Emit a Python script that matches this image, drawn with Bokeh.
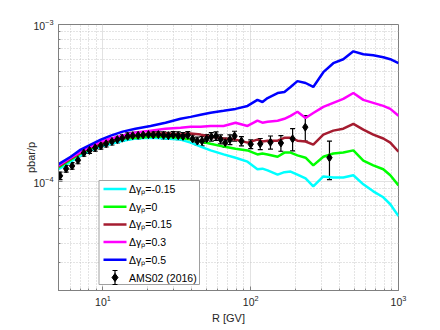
from bokeh.plotting import figure
from bokeh.models import (Range1d, FixedTicker, ColumnDataSource, Whisker, TeeHead,
                          BoxAnnotation, PolyAnnotation, Label)
from bokeh.embed import file_html
from bokeh.resources import INLINE

# ---------------- data ----------------
R_model = [5.0, 6.05, 7.07, 8.26, 9.66, 11.3, 13.6, 16.6, 21.0, 26.5, 33.5, 39.2, 45.8, 53.5,
           65.5, 78.9, 95.1, 111, 120, 130, 152, 169, 186, 207, 235, 265, 310, 362, 423,
           495, 578, 675, 789, 880, 1000]

dg_m015 = [1.19e-4, 1.33e-4, 1.46e-4, 1.57e-4, 1.66e-4, 1.73e-4, 1.81e-4, 1.87e-4, 1.89e-4,
           1.87e-4, 1.84e-4, 1.76e-4, 1.66e-4, 1.57e-4, 1.48e-4, 1.41e-4, 1.33e-4, 1.19e-4,
           1.20e-4, 1.17e-4, 1.10e-4, 1.14e-4, 1.15e-4, 1.10e-4, 1.04e-4, 0.926e-4, 1.07e-4,
           1.055e-4, 1.055e-4, 1.09e-4, 0.953e-4, 0.860e-4, 0.788e-4, 0.711e-4, 0.597e-4]
dg_0 = [1.22e-4, 1.37e-4, 1.50e-4, 1.61e-4, 1.71e-4, 1.79e-4, 1.87e-4, 1.89e-4, 1.92e-4,
        1.92e-4, 1.89e-4, 1.84e-4, 1.79e-4, 1.73e-4, 1.66e-4, 1.61e-4, 1.57e-4, 1.48e-4,
        1.50e-4, 1.48e-4, 1.43e-4, 1.52e-4, 1.52e-4, 1.46e-4, 1.41e-4, 1.26e-4, 1.43e-4,
        1.50e-4, 1.52e-4, 1.57e-4, 1.35e-4, 1.26e-4, 1.19e-4, 1.09e-4, 0.939e-4]
dg_015 = [1.24e-4, 1.39e-4, 1.52e-4, 1.64e-4, 1.73e-4, 1.81e-4, 1.89e-4, 1.95e-4, 2.01e-4,
          2.01e-4, 1.98e-4, 2.01e-4, 1.98e-4, 1.92e-4, 1.87e-4, 1.84e-4, 1.76e-4, 1.84e-4,
          1.79e-4, 1.81e-4, 1.81e-4, 1.89e-4, 1.89e-4, 1.81e-4, 1.79e-4, 1.71e-4, 1.98e-4,
          2.10e-4, 2.16e-4, 2.32e-4, 2.13e-4, 1.98e-4, 1.87e-4, 1.76e-4, 1.54e-4]
dg_03 = [1.26e-4, 1.41e-4, 1.54e-4, 1.66e-4, 1.79e-4, 1.87e-4, 1.95e-4, 2.04e-4, 2.10e-4,
         2.16e-4, 2.19e-4, 2.22e-4, 2.22e-4, 2.25e-4, 2.25e-4, 2.36e-4, 2.25e-4, 2.43e-4,
         2.36e-4, 2.39e-4, 2.43e-4, 2.50e-4, 2.61e-4, 2.77e-4, 2.53e-4, 2.72e-4, 2.98e-4,
         3.16e-4, 3.35e-4, 3.65e-4, 3.30e-4, 3.16e-4, 3.02e-4, 2.89e-4, 2.61e-4]
dg_05 = [1.28e-4, 1.43e-4, 1.59e-4, 1.71e-4, 1.84e-4, 1.95e-4, 2.07e-4, 2.16e-4, 2.25e-4,
         2.36e-4, 2.50e-4, 2.57e-4, 2.65e-4, 2.73e-4, 2.81e-4, 2.89e-4, 3.02e-4, 3.30e-4,
         3.20e-4, 3.39e-4, 3.65e-4, 3.71e-4, 3.99e-4, 4.35e-4, 4.23e-4, 3.99e-4, 4.96e-4,
         5.66e-4, 6.00e-4, 6.74e-4, 6.45e-4, 6.36e-4, 6.18e-4, 6.00e-4, 5.66e-4]

series_labels = ["Δγₚ=-0.15", "Δγₚ=0", "Δγₚ=0.15", "Δγₚ=0.3", "Δγₚ=0.5"]
series_colors = ["#00ffff", "#00ff00", "#a51c30", "#ff00ff", "#0000ff"]
series_values = [dg_m015, dg_0, dg_015, dg_03, dg_05]

ams_R = [5.12, 5.63, 6.18, 6.77, 7.42, 8.11, 8.86, 9.67, 10.5, 11.5, 12.5, 13.5, 14.7, 15.9,
         17.3, 18.7, 20.3, 21.9, 23.7, 25.7, 27.7, 29.9, 32.3, 34.8, 37.5, 40.4, 43.5, 46.8,
         50.3, 54.1, 58.2, 62.5, 67.2, 72.3, 77.7, 86.5, 100, 116, 136, 160, 192, 234, 341]
ams_ratio = [1.08e-4, 1.20e-4, 1.25e-4, 1.36e-4, 1.51e-4, 1.57e-4, 1.63e-4, 1.68e-4, 1.73e-4,
             1.79e-4, 1.84e-4, 1.88e-4, 1.93e-4, 1.95e-4, 1.96e-4, 1.97e-4, 1.98e-4, 1.97e-4,
             1.98e-4, 1.96e-4, 1.95e-4, 1.97e-4, 1.95e-4, 1.93e-4, 1.96e-4, 1.86e-4, 1.80e-4,
             1.80e-4, 1.86e-4, 1.92e-4, 1.94e-4, 1.85e-4, 1.76e-4, 1.84e-4, 1.94e-4, 1.80e-4,
             1.72e-4, 1.73e-4, 1.77e-4, 1.75e-4, 1.86e-4, 2.21e-4, 1.41e-4]
ams_err = [0.06e-4, 0.06e-4, 0.06e-4, 0.07e-4, 0.07e-4, 0.07e-4, 0.08e-4, 0.08e-4, 0.08e-4,
           0.09e-4, 0.09e-4, 0.09e-4, 0.10e-4, 0.10e-4, 0.10e-4, 0.10e-4, 0.10e-4, 0.10e-4,
           0.10e-4, 0.10e-4, 0.10e-4, 0.10e-4, 0.11e-4, 0.11e-4, 0.11e-4, 0.11e-4, 0.11e-4,
           0.12e-4, 0.12e-4, 0.12e-4, 0.12e-4, 0.12e-4, 0.12e-4, 0.13e-4, 0.14e-4, 0.12e-4,
           0.11e-4, 0.14e-4, 0.17e-4, 0.20e-4, 0.30e-4, 0.41e-4, 0.39e-4]
ams_label = "AMS02 (2016)"

x_major = [10, 100, 1000]
x_minor = [5, 6, 7, 8, 9, 20, 30, 40, 50, 60, 70, 80, 90, 200, 300, 400, 500, 600, 700, 800, 900]
y_major = [1e-4, 1e-3]
y_minor = [2e-5, 3e-5, 4e-5, 5e-5, 6e-5, 7e-5, 8e-5, 9e-5,
           2e-4, 3e-4, 4e-4, 5e-4, 6e-4, 7e-4, 8e-4, 9e-4]

# ---------------- figure ----------------
FONT = "Liberation Sans"
AX = "#808080"

p = figure(width=432, height=326, x_axis_type="log", y_axis_type="log",
           x_range=Range1d(5, 1000), y_range=Range1d(2e-5, 1e-3),
           output_backend="svg", toolbar_location=None,
           min_border_left=58, min_border_right=34, min_border_top=24, min_border_bottom=34)
p.background_fill_color = "white"
p.border_fill_color = "white"
p.outline_line_color = AX
p.outline_line_width = 1

p.xaxis.ticker = FixedTicker(ticks=x_major, minor_ticks=x_minor)
p.yaxis.ticker = FixedTicker(ticks=y_major, minor_ticks=y_minor)
p.xaxis.axis_label = "R [GV]"
p.yaxis.axis_label = "pbar/p"
for ax in (p.xaxis[0], p.yaxis[0]):
    ax.major_tick_in = 4
    ax.major_tick_out = 0
    ax.minor_tick_in = 2
    ax.minor_tick_out = 0
    ax.axis_line_color = AX
    ax.major_tick_line_color = AX
    ax.minor_tick_line_color = AX
    ax.major_label_text_font = FONT
    ax.major_label_text_font_size = "10.5px"
    ax.major_label_text_color = "#262626"
    ax.axis_label_text_font = FONT
    ax.axis_label_text_font_size = "11px"
    ax.axis_label_text_font_style = "normal"
    ax.axis_label_text_color = "#262626"
p.xaxis.major_label_standoff = 4
p.xaxis.axis_label_standoff = 3
p.yaxis.major_label_standoff = 5
p.yaxis.axis_label_standoff = -7

for g in (p.xgrid[0], p.ygrid[0]):
    g.grid_line_color = "#e2e2e2"
    g.grid_line_width = 1
    g.minor_grid_line_color = "#c8c8c8"
    g.minor_grid_line_dash = "1 2"
    g.minor_grid_line_width = 1

for vals, col in zip(series_values, series_colors):
    p.line(R_model, vals, line_color=col, line_width=2.5)

lo = [v - e for v, e in zip(ams_ratio, ams_err)]
hi = [v + e for v, e in zip(ams_ratio, ams_err)]
src = ColumnDataSource(dict(R=ams_R, val=ams_ratio, lo=lo, hi=hi))
w = Whisker(source=src, base="R", lower="lo", upper="hi", dimension="height",
            line_color="black", line_width=1.2,
            upper_head=TeeHead(size=5, line_color="black", line_width=1.2),
            lower_head=TeeHead(size=5, line_color="black", line_width=1.2))
p.add_layout(w)
p.scatter("R", "val", source=src, marker="diamond", size=8,
          fill_color="black", line_color="black")

# ---------------- legend (screen units, from frame bottom-left) ----------------
S = dict(left_units="screen", right_units="screen", top_units="screen", bottom_units="screen")
p.add_layout(BoxAnnotation(left=40.5, right=141, bottom=6, top=110, fill_color="white",
                           fill_alpha=1.0, line_color="#a0a0a0", line_alpha=1.0,
                           line_width=1, **S))
PA = dict(xs_units="screen", ys_units="screen", line_alpha=1.0)
row_y = [101.5, 83.8, 66.1, 48.4, 30.7, 13.0]
for i, (lab, col) in enumerate(zip(series_labels, series_colors)):
    yy = row_y[i]
    p.add_layout(PolyAnnotation(xs=[45, 68], ys=[yy, yy], line_color=col, line_width=2.5,
                                fill_alpha=0, **PA))
    p.add_layout(Label(x=70.5, y=yy, x_units="screen", y_units="screen", text=lab,
                       text_font=FONT, text_font_size="10.5px", text_baseline="middle",
                       text_color="black"))
yy = row_y[5]
p.add_layout(PolyAnnotation(xs=[56.5, 56.5], ys=[yy - 7, yy + 7], line_color="black",
                            line_width=1.2, fill_alpha=0, **PA))
for cy in (yy - 7, yy + 7):
    p.add_layout(PolyAnnotation(xs=[54, 59], ys=[cy, cy], line_color="black",
                                line_width=1.2, fill_alpha=0, **PA))
p.add_layout(PolyAnnotation(xs=[56.5, 59.5, 56.5, 53.5], ys=[yy + 4, yy, yy - 4, yy],
                            line_color="black", line_width=1, fill_color="black",
                            fill_alpha=1, **PA))
p.add_layout(Label(x=70.5, y=yy, x_units="screen", y_units="screen", text=ams_label,
                   text_font=FONT, text_font_size="10.5px", text_baseline="middle",
                   text_color="black"))

open("out.html", "w").write(file_html(p, INLINE))
